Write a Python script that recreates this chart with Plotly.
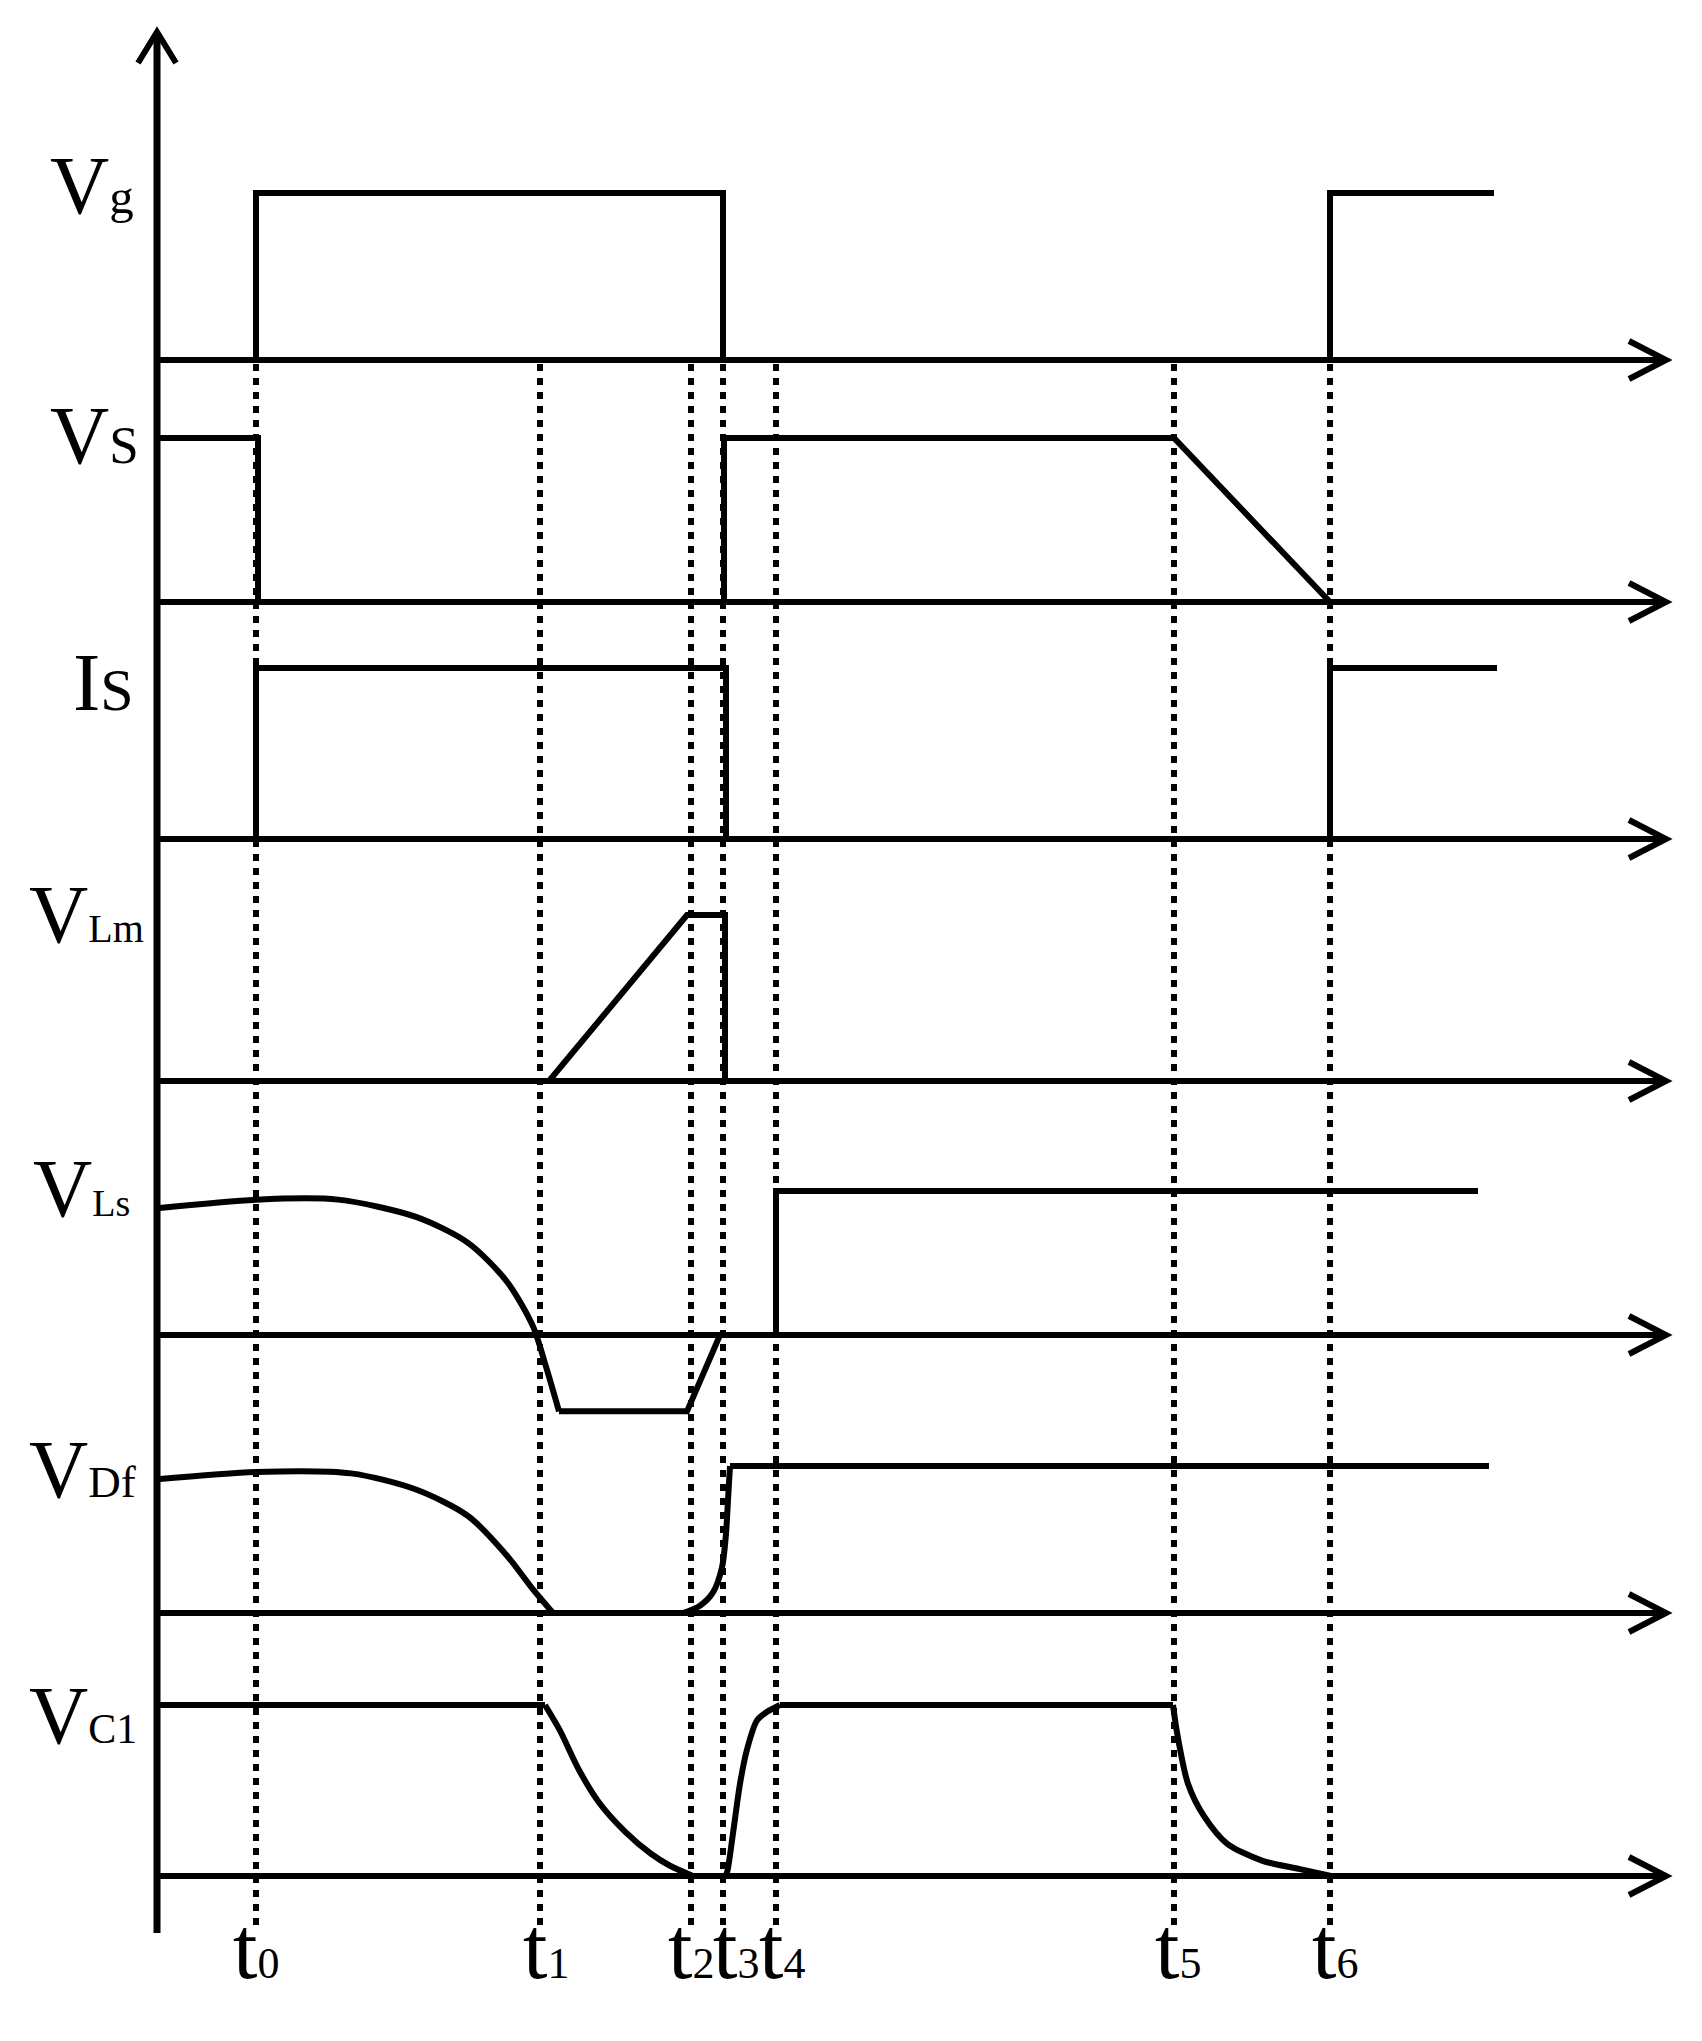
import plotly.graph_objects as go

PAGE_W, PAGE_H = 1702, 2041
OFF = 8                      # default body margin of the html page
W, H = PAGE_W - OFF, PAGE_H - OFF

# ---------------- data (time in arbitrary units, 0 = vertical axis) ----------------
t_digits = ["0", "1", "2", "3", "4", "5", "6"]
t_marks = [9.9, 38.3, 53.4, 56.6, 61.9, 101.7, 117.3]

sig_main = ["V", "V", "I", "V", "V", "V", "V"]
sig_sub = ["g", "S", "S", "Lm", "Ls", "Df", "C1"]

# gate voltage
vg_t = [0, 9.9, 9.9, 56.6, 56.6, 117.3, 117.3, 133.7]
vg_v = [0, 0, 1, 1, 0, 0, 1, 1]
# switch voltage
vs_t = [0, 10.1, 10.1, 56.7, 56.7, 101.7, 117.3, 117.3]
vs_v = [1, 1, 0, 0, 1, 1, 0, 0]
# switch current
is_t = [0, 9.9, 9.9, 56.9, 56.9, 117.3, 117.3, 134.0]
is_v = [0, 0, 1, 1, 0, 0, 1, 1]
# magnetizing inductance voltage
vlm_t = [0, 39.2, 53.0, 56.8, 56.8]
vlm_v = [0, 0, 1, 1, 0]
# series inductance voltage
vls_curve_t = [0, 9.9, 18.1, 25.9, 31.1, 35.0, 37.6, 38.9, 40.2]
vls_curve_v = [0.88, 0.94, 0.94, 0.82, 0.64, 0.37, 0.06, -0.22, -0.53]
vls_step_t = [40.2, 53.0, 56.3, 61.9, 61.9, 132.1]
vls_step_v = [-0.53, -0.53, 0, 0, 1, 1]
# diode voltage
vdf_fall_t = [0, 9.9, 19.4, 25.9, 31.1, 35.0, 37.6, 39.6]
vdf_fall_v = [0.91, 0.96, 0.95, 0.84, 0.66, 0.39, 0.16, 0]
vdf_flat_t = [39.6, 52.6]
vdf_flat_v = [0, 0]
vdf_rise_t = [52.6, 54.3, 55.6, 56.5, 56.9, 57.1, 57.3]
vdf_rise_v = [0, 0.05, 0.14, 0.31, 0.54, 0.77, 1.0]
vdf_high_t = [57.3, 133.2]
vdf_high_v = [1, 1]
# capacitor voltage
vc1_high1_t = [0, 38.8]
vc1_high1_v = [1, 1]
vc1_fall1_t = [38.8, 40.3, 42.2, 44.2, 46.8, 49.4, 51.3, 53.6]
vc1_fall1_v = [1.0, 0.85, 0.62, 0.43, 0.26, 0.13, 0.06, 0.0]
vc1_low_t = [53.6, 56.8]
vc1_low_v = [0, 0]
vc1_rise_t = [56.8, 57.0, 57.6, 58.3, 59.0, 60.0, 61.0, 62.3]
vc1_rise_v = [0, 0.02, 0.25, 0.54, 0.74, 0.91, 0.96, 1.0]
vc1_high2_t = [62.3, 101.6]
vc1_high2_v = [1, 1]
vc1_fall2_t = [101.6, 102.0, 103.1, 104.7, 107.0, 110.5, 114.3, 117.4]
vc1_fall2_v = [1.0, 0.84, 0.54, 0.35, 0.19, 0.09, 0.04, 0.0]

axis_end = 150.9

# ---------------- layout geometry (page pixels) ----------------
origin_px = 157
px_per_t = 10
baseline_px = [360, 602, 839, 1081, 1335, 1613, 1876]
high_px = [193, 438, 668, 915, 1191, 1466, 1705]
label_left_px = [48, 48, 71, 27, 31, 27, 27]
label_base_px = [213, 463, 710, 942, 1216, 1497, 1743]
sub_size = [49, 53, 60, 40, 38, 45, 42]
t_shift = [0, 6, 0, 13, 6, 4, 5]

FONT = "Liberation Serif, Times New Roman, serif"
LW = 6


def pyaper(px):
    return 1 - (px - OFF) / H


def pxaper(px):
    return (px - OFF) / W


def yref(i):
    return "y" if i == 0 else f"y{i + 1}"


fig = go.Figure()

segments = [
    (0, vg_t, vg_v, "linear"),
    (1, vs_t, vs_v, "linear"),
    (2, is_t, is_v, "linear"),
    (3, vlm_t, vlm_v, "linear"),
    (4, vls_curve_t, vls_curve_v, "spline"),
    (4, vls_step_t, vls_step_v, "linear"),
    (5, vdf_fall_t, vdf_fall_v, "spline"),
    (5, vdf_flat_t, vdf_flat_v, "linear"),
    (5, vdf_rise_t, vdf_rise_v, "spline"),
    (5, vdf_high_t, vdf_high_v, "linear"),
    (6, vc1_high1_t, vc1_high1_v, "linear"),
    (6, vc1_fall1_t, vc1_fall1_v, "spline"),
    (6, vc1_low_t, vc1_low_v, "linear"),
    (6, vc1_rise_t, vc1_rise_v, "spline"),
    (6, vc1_high2_t, vc1_high2_v, "linear"),
    (6, vc1_fall2_t, vc1_fall2_v, "spline"),
]
for ch, tt, vv, shp in segments:
    fig.add_trace(go.Scatter(
        x=tt, y=vv, yaxis=yref(ch), mode="lines",
        line=dict(color="black", width=LW, shape=shp, smoothing=0.8),
        hoverinfo="skip", showlegend=False, cliponaxis=False,
    ))

shapes = []
# vertical axis with open arrow head
shapes.append(dict(type="line", xref="x", yref="paper", x0=0, x1=0,
                   y0=pyaper(1933), y1=pyaper(34), line=dict(color="black", width=7), layer="below"))
shapes.append(dict(type="path", xref="x", yref="paper",
                   path=f"M -1.9,{pyaper(63)} L 0,{pyaper(32)} L 1.9,{pyaper(63)}",
                   line=dict(color="black", width=6), layer="below"))

layout_axes = {}
for i in range(7):
    B, Hh = baseline_px[i] - OFF, high_px[i] - OFF
    s = B - Hh
    rng = [-(H - B) / s, B / s]
    key = "yaxis" if i == 0 else f"yaxis{i + 1}"
    ax = dict(range=rng, visible=False, fixedrange=True)
    if i > 0:
        ax["overlaying"] = "y"
    layout_axes[key] = ax
    shapes.append(dict(type="line", xref="x", yref=yref(i), x0=0, x1=axis_end - 0.3, y0=0, y1=0,
                       line=dict(color="black", width=LW), layer="below"))
    shapes.append(dict(type="path", xref="x", yref=yref(i),
                       path=f"M {axis_end - 3.7},{19 / s} L {axis_end},0 L {axis_end - 3.7},{-19 / s}",
                       line=dict(color="black", width=6), layer="below"))

for tm in t_marks:
    shapes.append(dict(type="line", xref="x", yref="paper", x0=tm, x1=tm,
                       y0=pyaper(1925), y1=pyaper(362),
                       line=dict(color="black", width=6, dash="7px,7px"), layer="below"))

annotations = []
for i in range(7):
    txt = f"{sig_main[i]}<span style='font-size:{sub_size[i]}px'>{sig_sub[i]}</span>"
    annotations.append(dict(
        text=txt, xref="paper", yref="paper",
        x=pxaper(label_left_px[i]), y=pyaper(label_base_px[i] - 27.7),
        xanchor="left", yanchor="middle", showarrow=False,
        font=dict(family=FONT, size=82, color="black"),
    ))
for d, tm, sh in zip(t_digits, t_marks, t_shift):
    annotations.append(dict(
        text=f"t<span style='font-size:44px'>{d}</span>", xref="x", yref="paper",
        x=tm, y=pyaper(1978 - 29.7), xshift=sh,
        xanchor="center", yanchor="middle", showarrow=False,
        font=dict(family=FONT, size=88, color="black"),
    ))

x0_t = -(origin_px - OFF) / px_per_t
fig.update_layout(
    width=W, height=H,
    margin=dict(l=0, r=0, t=0, b=0),
    paper_bgcolor="white", plot_bgcolor="white",
    xaxis=dict(range=[x0_t, x0_t + W / px_per_t], visible=False, fixedrange=True),
    shapes=shapes, annotations=annotations,
    showlegend=False,
    **layout_axes,
)

fig.write_html("out.html")
